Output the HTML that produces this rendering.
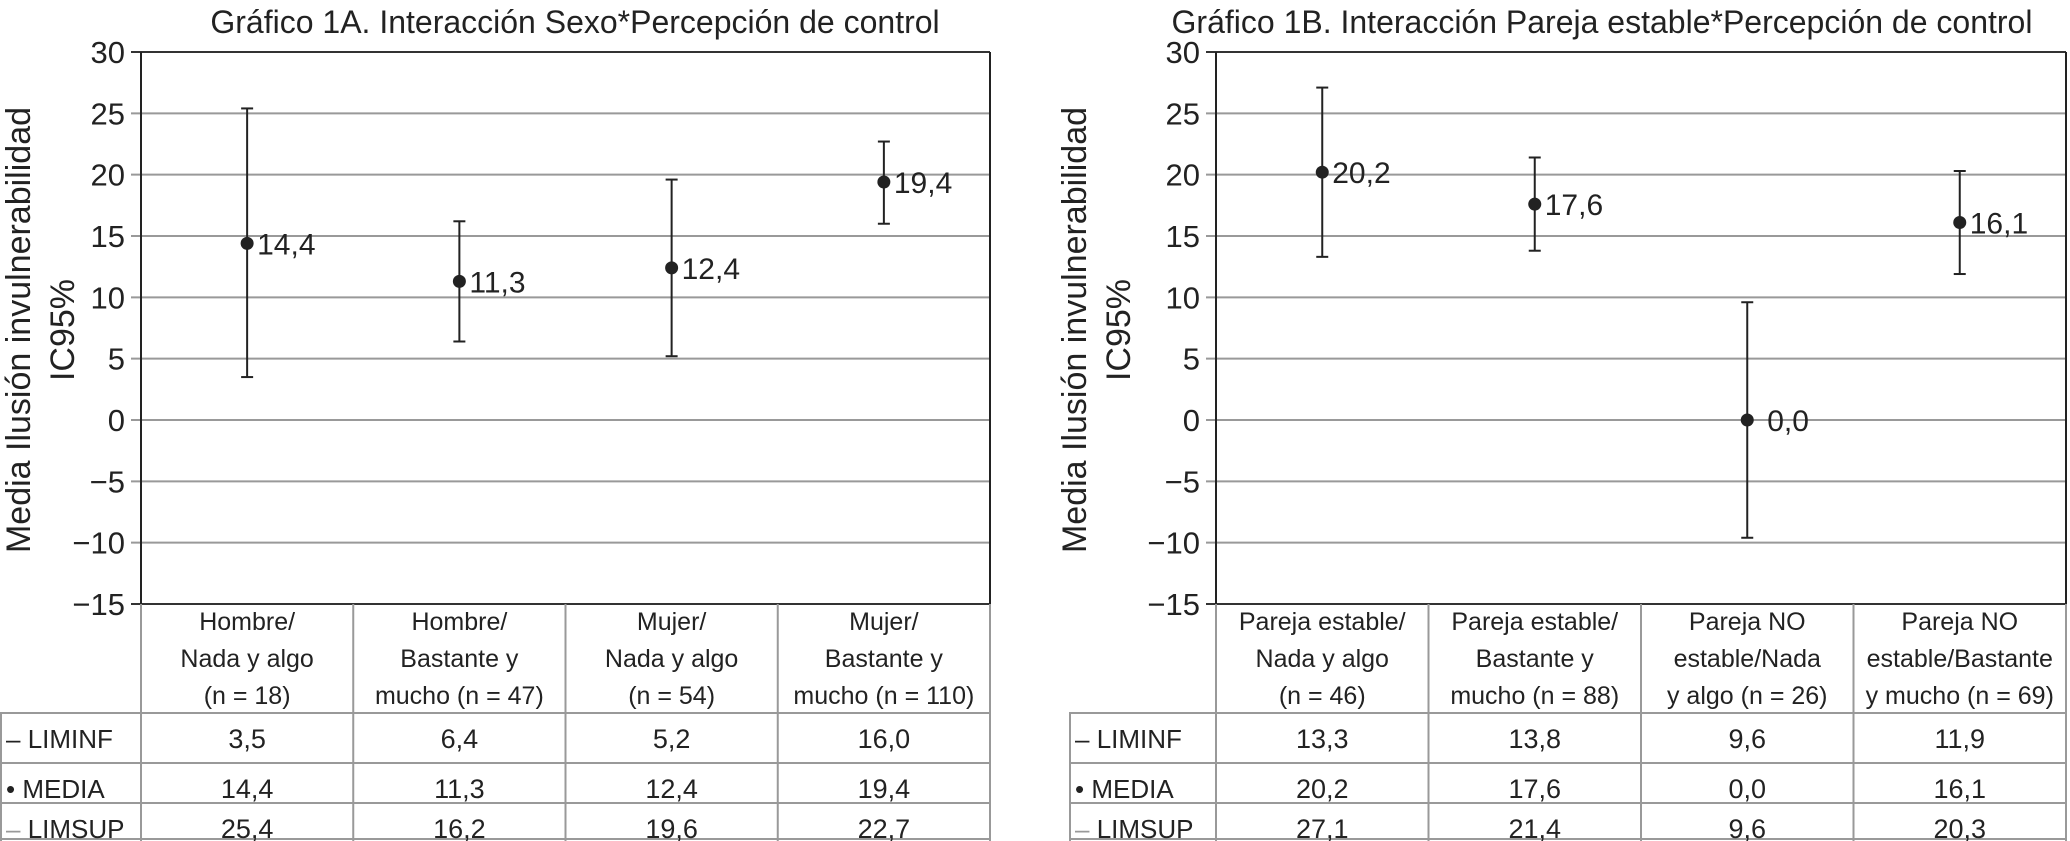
<!DOCTYPE html>
<html><head><meta charset="utf-8"><style>
html,body{margin:0;padding:0;background:#fff}
svg{display:block}
text{font-family:"Liberation Sans",sans-serif;fill:#222}
</style></head><body>
<svg id="c" width="2070" height="841" viewBox="0 0 2070 841" xmlns="http://www.w3.org/2000/svg"></svg>
<script>
const yTicks=[30,25,20,15,10,5,0,-5,-10,-15];
const catsA=[["Hombre/","Nada y algo","(n = 18)"],["Hombre/","Bastante y","mucho (n = 47)"],["Mujer/","Nada y algo","(n = 54)"],["Mujer/","Bastante y","mucho (n = 110)"]];
const liminfA=[3.5,6.4,5.2,16.0];
const mediaA=[14.4,11.3,12.4,19.4];
const limsupA=[25.4,16.2,19.6,22.7];
const liminfPrintA=["3,5","6,4","5,2","16,0"];
const catsB=[["Pareja estable/","Nada y algo","(n = 46)"],["Pareja estable/","Bastante y","mucho (n = 88)"],["Pareja NO","estable/Nada","y algo (n = 26)"],["Pareja NO","estable/Bastante","y mucho (n = 69)"]];
const liminfB=[13.3,13.8,-9.6,11.9];
const mediaB=[20.2,17.6,0.0,16.1];
const limsupB=[27.1,21.4,9.6,20.3];
const liminfPrintB=["13,3","13,8","9,6","11,9"];

const svg=document.getElementById('c');
const NS="http://www.w3.org/2000/svg";
function el(t,a,txt){const e=document.createElementNS(NS,t);for(const k in a)e.setAttribute(k,a[k]);if(txt!==undefined)e.textContent=txt;svg.appendChild(e);return e;}
const fmt=v=>v.toFixed(1).replace('.',',');
const fmtT=v=>v<0?'\u2212'+(-v):String(v);

function chart(o){
  const top=52,bot=604,ymin=-15,ymax=30;
  const y=v=>top+(ymax-v)*(bot-top)/(ymax-ymin);
  const L=o.left,R=o.right,n=o.cats.length,cw=(R-L)/n;
  const x=i=>L+cw*(i+0.5);
  let t=el('text',{x:o.tx,y:33,'font-size':32,'text-anchor':'middle'},o.title);
  
  
  const g=el('text',{transform:`translate(${o.ytx},330) rotate(-90)`,'font-size':34,'text-anchor':'middle'});
  
  
  const s1=document.createElementNS(NS,'tspan');s1.setAttribute('x',0);s1.setAttribute('y',0);s1.textContent='Media Ilusión invulnerabilidad';g.appendChild(s1);
  const s2=document.createElementNS(NS,'tspan');s2.setAttribute('x',0);s2.setAttribute('y',44);s2.textContent='IC95%';g.appendChild(s2);
  yTicks.forEach(v=>{
    const gl=el('line',{x1:L-10,x2:R,y1:y(v),y2:y(v),stroke:(v===30||v===-15)?'#333':'#999','stroke-width':2});
    
    
    const tl=el('text',{x:L-16,y:y(v)+11,'font-size':31,'text-anchor':'end'},fmtT(v));
    
    
  });
  el('line',{x1:L,x2:L,y1:top,y2:bot,stroke:'#222','stroke-width':2});
  el('line',{x1:R,x2:R,y1:top,y2:bot,stroke:'#222','stroke-width':2});
  const rows=[713,763,803,841];
  const tl=o.tableLeft;
  el('line',{x1:tl,x2:R,y1:rows[0],y2:rows[0],stroke:'#999','stroke-width':2});
  el('line',{x1:tl,x2:R,y1:rows[1],y2:rows[1],stroke:'#999','stroke-width':2});
  el('line',{x1:tl,x2:R,y1:rows[2],y2:rows[2],stroke:'#999','stroke-width':2});
  el('line',{x1:tl,x2:R,y1:839,y2:839,stroke:'#999','stroke-width':2});
  el('line',{x1:tl+1,x2:tl+1,y1:rows[0],y2:841,stroke:'#999','stroke-width':2});
  for(let i=0;i<=n;i++)el('line',{x1:L+cw*i,x2:L+cw*i,y1:bot,y2:841,stroke:'#999','stroke-width':2});
  const lbl=[['\u2013 LIMINF','#222'],['\u2022 MEDIA','#222'],['\u2013 LIMSUP','#999']];
  lbl.forEach((l,r)=>{
    const tt=el('text',{x:tl+6,y:rows[r]+35,'font-size':26});
    
    
    const a=document.createElementNS(NS,'tspan');a.setAttribute('fill',l[1]);a.textContent=l[0].slice(0,1);tt.appendChild(a);
    const b=document.createElementNS(NS,'tspan');b.textContent=l[0].slice(1);tt.appendChild(b);
  });
  o.cats.forEach((c,i)=>{
    c.forEach((line,k)=>{
      const ct=el('text',{x:x(i),y:630+k*37,'font-size':25,'text-anchor':'middle'},line);
      
      
    });
    [o.loPrint[i],fmt(o.me[i]),fmt(o.hi[i])].forEach((v,r)=>{
      const vt=el('text',{x:x(i),y:rows[r]+35,'font-size':27,'text-anchor':'middle'},v);
      
      
    });
    const eb=el('line',{x1:x(i),x2:x(i),y1:y(o.hi[i]),y2:y(o.lo[i]),stroke:'#222','stroke-width':2});
    
    
    el('line',{x1:x(i)-6,x2:x(i)+6,y1:y(o.hi[i]),y2:y(o.hi[i]),stroke:'#222','stroke-width':2});
    el('line',{x1:x(i)-6,x2:x(i)+6,y1:y(o.lo[i]),y2:y(o.lo[i]),stroke:'#222','stroke-width':2});
    const pt=el('circle',{cx:x(i),cy:y(o.me[i]),r:6.5,fill:'#222'});
    
    
    const gap=o.me[i]===0?20:10;
    const pl=el('text',{x:x(i)+gap,y:y(o.me[i])+11,'font-size':30},fmt(o.me[i]));
    
    
  });
}
chart({title:'Gráfico 1A. Interacción Sexo*Percepción de control',tx:575,ytx:30,left:141,right:990,tableLeft:0,cats:catsA,lo:liminfA,loPrint:liminfPrintA,me:mediaA,hi:limsupA});
chart({title:'Gráfico 1B. Interacción Pareja estable*Percepción de control',tx:1602,ytx:1086,left:1216,right:2066,tableLeft:1069,cats:catsB,lo:liminfB,loPrint:liminfPrintB,me:mediaB,hi:limsupB});
</script>
</body></html>
